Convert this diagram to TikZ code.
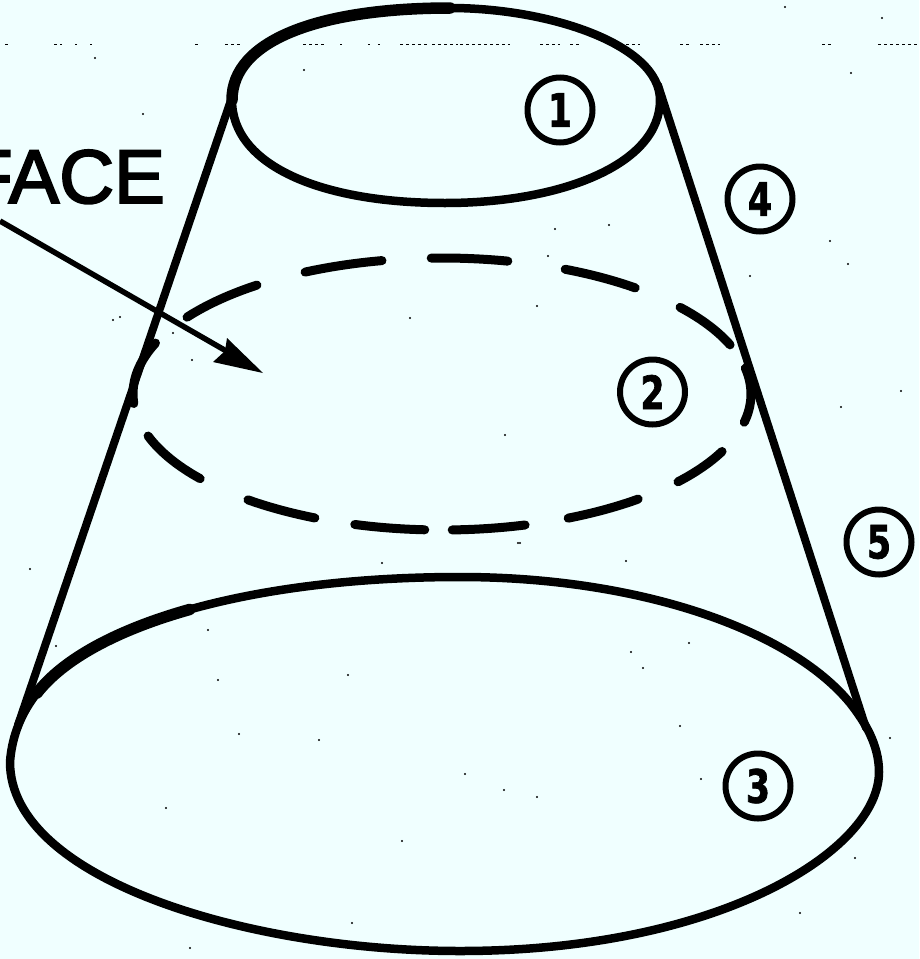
\documentclass[tikz,border=0pt]{standalone}
\usepackage{fontspec}
\setmainfont{Liberation Sans}
\newfontfamily\labelfont[FakeBold=2.6]{Liberation Sans}
\newfontfamily\digitfont[FakeStretch=0.75,FakeBold=1.5]{DejaVu Sans}
\definecolor{paper}{HTML}{F0FFFF}
\tikzset{
  outline/.style={line width=8.5pt,line cap=round,line join=round},
  heavy/.style={line width=11.5pt,line cap=round,line join=round},
  side/.style={line width=8pt,line cap=round},
  dashpiece/.style={line width=9pt,line cap=round,smooth,samples=12,variable=\t},
  numcircle/.style={circle,draw,line width=6pt,minimum size=65pt,inner sep=0pt,font=\digitfont\fontsize{46}{46}\selectfont\bfseries},
  pointer/.style={line width=5.5pt},
  speck/.style={fill=black,draw=none},
  noise/.style={line width=1pt,dash pattern=on 3pt off 3pt}
}
\begin{document}
\begin{tikzpicture}[x=1pt,y=-1pt]
\path[use as bounding box,fill=paper] (0,0) rectangle (919,959);
\clip (0,0) rectangle (919,959);
% scan noise
\foreach \p/\q in {5/9,54/62,75/77,90/92,195/200,225/240,303/325,340/342,368/370,378/380,400/428,432/458,460/510,540/560,570/580,620/640,680/690,700/720,822/832,878/919}{
  \draw[noise] (\p,44) -- (\q,44);
}
\foreach \x/\y in {30/569,208/630,218/680,348/675,239/734,319/740,166/808,402/841,352/923,190/948,56/646,382/563,518/543,626/561,701/779,465/774,504/790,537/797,890/738,680/726,643/668,631/652,689/643,855/858,800/913,848/264,851/73,830/241,750/276,901/391,841/407,609/225,555/229,548/256,537/306,113/320,120/317,192/360,173/333,95/58,304/70,143/114,785/7,882/18,410/318,505/435,520/543}{
  \fill[speck] (\x,\y) circle (1.2pt);
}
% top rim
\draw[outline] (232,100) .. controls (232,40) and (320,8) .. (450,8)
  .. controls (550,8) and (660,45) .. (660,100)
  .. controls (660,165) and (560,203) .. (445,203)
  .. controls (320,203) and (232,165) .. (232,100) -- cycle;
\draw[heavy] (232,100) .. controls (232,40) and (320,8) .. (450,8);
% bottom rim
\draw[outline] (10,762) .. controls (12,735) and (22,712) .. (37,693)
  .. controls (90,625) and (250,577) .. (460,577)
  .. controls (640,577) and (790,630) .. (850,703)
  .. controls (865,722) and (879,745) .. (879,772)
  .. controls (879,850) and (720,951) .. (460,951)
  .. controls (250,951) and (10,880) .. (10,762) -- cycle;
\draw[heavy] (37,693) .. controls (63.5,659) and (116.75,630) .. (189.6,609.5);
\coordinate (tl) at (231,100);
\coordinate (bl) at (18,725);
\coordinate (tr) at (658,85);
\coordinate (br) at (866,728);
\draw[side] (tl) -- (bl);
\draw[side] (tr) -- (br);
% dashed ellipse
\foreach \a/\b in {-116.3/-101.2,-92/-77.7,-66.5/-51.3,-39.6/-21.2,-11/12,25/40.2,50.6/65.9,74.4/88.1,93.2/106.4,114.3/128.9,141.5/162,176/202,214.4/233.2}{
  \draw[dashpiece,domain=\a:\b] plot ({442+309*cos(\t)},{394+136*sin(\t)});
}
% label and pointer
\node[anchor=base east,inner sep=0pt,font=\labelfont\fontsize{76}{76}\selectfont] (label) at (165,203) {FACE};
\coordinate (tailend) at (0,221);
\coordinate (tip) at (263,373);
\draw[pointer] (tailend) -- (228,352);
\fill (tip) -- (227,338) -- (225,351) -- (213,362) -- cycle;
% numbers
\node[numcircle] (n1) at (560,110) {1};
\node[numcircle] (n2) at (652.5,392) {2};
\node[numcircle] (n3) at (758,786) {3};
\node[numcircle] (n4) at (760,199) {4};
\node[numcircle] (n5) at (879,542) {5};
\end{tikzpicture}
\end{document}
